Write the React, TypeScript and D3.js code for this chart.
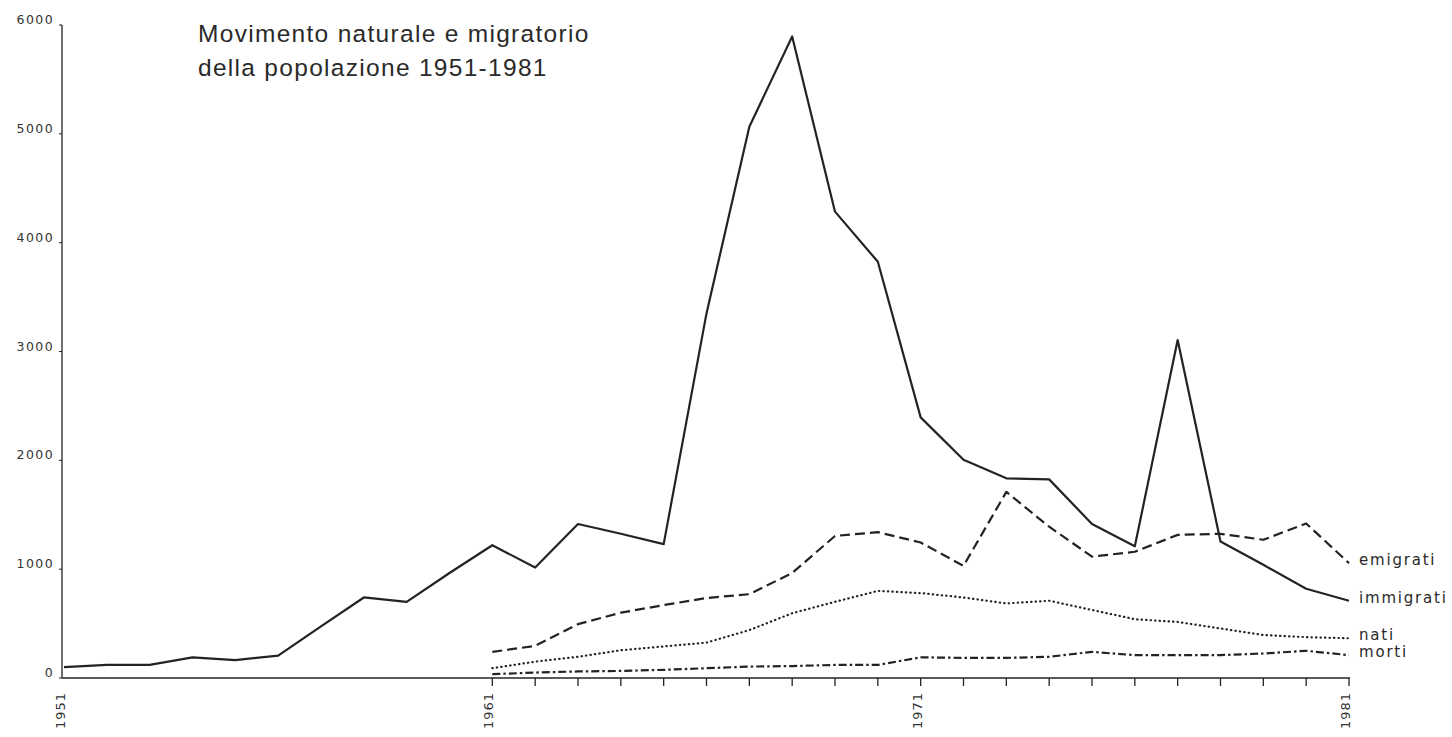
import React from "react";
import * as d3 from "d3";

// ---- data ----
const yearsImmigrati = [1951, 1952, 1953, 1954, 1955, 1956, 1957, 1958, 1959, 1960, 1961, 1962, 1963, 1964, 1965, 1966, 1967, 1968, 1969, 1970, 1971, 1972, 1973, 1974, 1975, 1976, 1977, 1978, 1979, 1980, 1981];
const yearsOther = [1961, 1962, 1963, 1964, 1965, 1966, 1967, 1968, 1969, 1970, 1971, 1972, 1973, 1974, 1975, 1976, 1977, 1978, 1979, 1980, 1981];

const immigrati = [100, 120, 120, 190, 165, 205, 475, 740, 700, 965, 1220, 1015, 1415, 1325, 1230, 3350, 5065, 5895, 4285, 3825, 2395, 2005, 1835, 1825, 1415, 1210, 3105, 1255, 1040, 820, 710];
const emigrati = [240, 295, 495, 600, 670, 735, 770, 965, 1305, 1340, 1245, 1030, 1710, 1390, 1115, 1160, 1315, 1325, 1270, 1420, 1055];
const nati = [90, 150, 195, 255, 290, 325, 440, 595, 700, 800, 780, 740, 685, 710, 625, 540, 515, 455, 395, 375, 365];
const morti = [35, 50, 60, 65, 75, 90, 105, 110, 120, 120, 190, 185, 185, 195, 240, 210, 210, 210, 225, 250, 210];

const yTickValues = [0, 1000, 2000, 3000, 4000, 5000, 6000];
const xTickLabels = [1951, 1961, 1971, 1981];
const xTickMarks = yearsOther;
const titleLines = ["Movimento naturale e migratorio", "della popolazione 1951-1981"];

type Series = { name: string; years: number[]; values: number[]; dash: string; cap: "butt" | "round" };
const series: Series[] = [
  { name: "immigrati", years: yearsImmigrati, values: immigrati, dash: "none", cap: "butt" },
  { name: "emigrati", years: yearsOther, values: emigrati, dash: "10,5", cap: "butt" },
  { name: "nati", years: yearsOther, values: nati, dash: "0.4,4.1", cap: "round" },
  { name: "morti", years: yearsOther, values: morti, dash: "8,3,2.5,3", cap: "butt" },
];

export default function App() {
  const W = 1452;
  const H = 737;
  const x = d3.scaleLinear().domain([1951, 1981]).range([64, 1349]);
  const y = d3.scaleLinear().domain([0, 6000]).range([678, 25]);
  const line = d3
    .line<[number, number]>()
    .x((d) => x(d[0]))
    .y((d) => y(d[1]));

  const ink = "#232323";
  const letterFont = "'DejaVu Sans', Verdana, sans-serif";

  return (
    <svg
      width={W}
      height={H}
      viewBox={`0 0 ${W} ${H}`}
      style={{ position: "absolute", left: 0, top: 0, background: "#fff" }}
    >
      <rect x={0} y={0} width={W} height={H} fill="#fff" />

      {/* title */}
      <g fontFamily="'Liberation Sans', Arial, Helvetica, sans-serif" fontSize={24.5} fill="#2a2a2a" letterSpacing={1.3}>
        {titleLines.map((t, i) => (
          <text key={i} x={198} y={42 + i * 34}>
            {t}
          </text>
        ))}
      </g>

      {/* y axis */}
      <line x1={62} x2={62} y1={y(6000)} y2={y(0)} stroke={ink} strokeWidth={1.3} />
      {yTickValues.map((v) => (
        <g key={v}>
          <line x1={59} x2={62} y1={y(v)} y2={y(v)} stroke={ink} strokeWidth={1} />
          <text
            x={54}
            y={y(v) - 1}
            textAnchor="end"
            fontFamily={letterFont}
            fontSize={12.5}
            letterSpacing={1.4}
            fill="#333"
          >
            {v}
          </text>
        </g>
      ))}

      {/* x axis */}
      <line x1={62} x2={x(1981) + 1} y1={y(0)} y2={y(0)} stroke={ink} strokeWidth={1.4} />
      {xTickMarks.map((yr) => (
        <line key={yr} x1={x(yr)} x2={x(yr)} y1={y(0)} y2={y(0) + 8} stroke={ink} strokeWidth={1.3} />
      ))}
      {xTickLabels.map((yr) => (
        <text
          key={yr}
          transform={`translate(${x(yr) + 1},${692}) rotate(-90)`}
          textAnchor="end"
          fontFamily={letterFont}
          fontSize={13}
          letterSpacing={1}
          fill="#333"
        >
          {yr}
        </text>
      ))}

      {/* series */}
      {series.map((s) => {
        const pts = s.years.map((yr, i) => [yr, s.values[i]] as [number, number]);
        const last = pts[pts.length - 1];
        return (
          <g key={s.name}>
            <path
              d={line(pts) || ""}
              fill="none"
              stroke={ink}
              strokeWidth={2.2}
              strokeDasharray={s.dash}
              strokeLinecap={s.cap}
              strokeLinejoin="round"
            />
            <text
              x={x(last[0]) + 10}
              y={y(last[1]) + 2}
              fontFamily={letterFont}
              fontSize={15}
              letterSpacing={1.8}
              fill="#2a2a2a"
            >
              {s.name}
            </text>
          </g>
        );
      })}
    </svg>
  );
}
